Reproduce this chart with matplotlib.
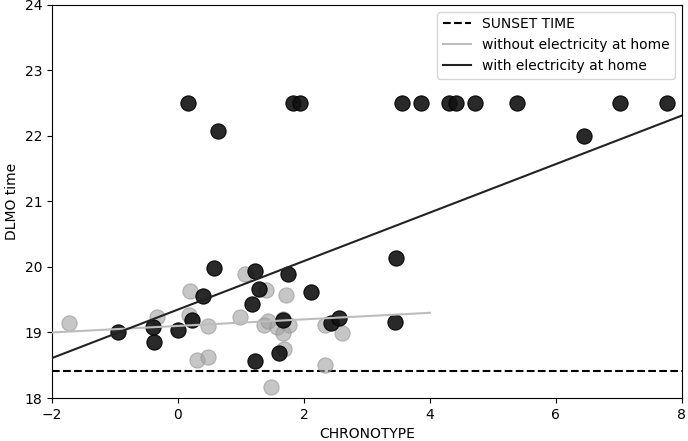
import matplotlib
matplotlib.use("Agg")
import matplotlib.pyplot as plt
import numpy as np

# with electricity at home (black)
elec_x = [0.16, 0.63, 1.83, 1.94, 3.56, 3.86, 4.30, 4.41, 4.71, 5.38, 6.44, 7.02, 7.76,
          -0.96, -0.39, -0.38, 0.005, 0.22, 0.39, 0.57, 1.17, 1.22, 1.29, 1.22, 1.66, 1.61,
          1.75, 2.11, 2.43, 2.56, 3.44, 3.46]
elec_y = [22.5, 22.08, 22.5, 22.5, 22.5, 22.5, 22.5, 22.5, 22.5, 22.5, 22.0, 22.5, 22.5,
          19.0, 19.09, 18.86, 19.04, 19.19, 19.56, 19.98, 19.44, 19.94, 19.66, 18.57, 19.19, 18.68,
          19.89, 19.62, 19.14, 19.22, 19.16, 20.14]

# without electricity at home (grey)
noelec_x = [-1.73, -0.33, 0.17, 0.19, 0.48, 0.31, 0.48, 0.99, 1.06, 1.40, 1.37, 1.43,
            1.58, 1.66, 1.71, 1.76, 1.67, 1.68, 1.48, 2.33, 2.61, 2.33]
noelec_y = [19.15, 19.24, 19.27, 19.64, 19.10, 18.58, 18.62, 19.24, 19.90, 19.65, 19.11, 19.17,
            19.09, 19.2, 19.57, 19.11, 18.99, 18.75, 18.17, 19.11, 18.99, 18.51]

# fitted lines
elec_fit_x = [-2, 8]
elec_fit_y = [18.61, 22.31]
noelec_fit_x = [-2, 4]
noelec_fit_y = [19.0, 19.30]
sunset = 18.41

fig = plt.figure(figsize=(6.88, 4.41), dpi=100)
ax = fig.add_axes([0.0756, 0.0975, 0.9154, 0.8915])

ax.axhline(sunset, color="black", linestyle="--", linewidth=1.5, label="SUNSET TIME", zorder=1)
ax.scatter(noelec_x, noelec_y, s=120, color="#a0a0a0", alpha=0.6, edgecolors="#909090", linewidths=0.8, zorder=2)
ax.scatter(elec_x, elec_y, s=120, color="#111111", alpha=0.9, edgecolors="#000000", linewidths=0.8, zorder=3)
ax.plot(noelec_fit_x, noelec_fit_y, color="#bdbdbd", linewidth=1.5, label="without electricity at home", zorder=4)
ax.plot(elec_fit_x, elec_fit_y, color="#222222", linewidth=1.5, label="with electricity at home", zorder=4)

ax.set_xlim(-2, 8)
ax.set_ylim(18, 24)
ax.set_xticks([-2, 0, 2, 4, 6, 8])
ax.set_yticks([18, 19, 20, 21, 22, 23, 24])
ax.set_xlabel("CHRONOTYPE")
ax.set_ylabel("DLMO time")
ax.legend(loc="upper right")

fig.savefig("out.png", dpi=100)
